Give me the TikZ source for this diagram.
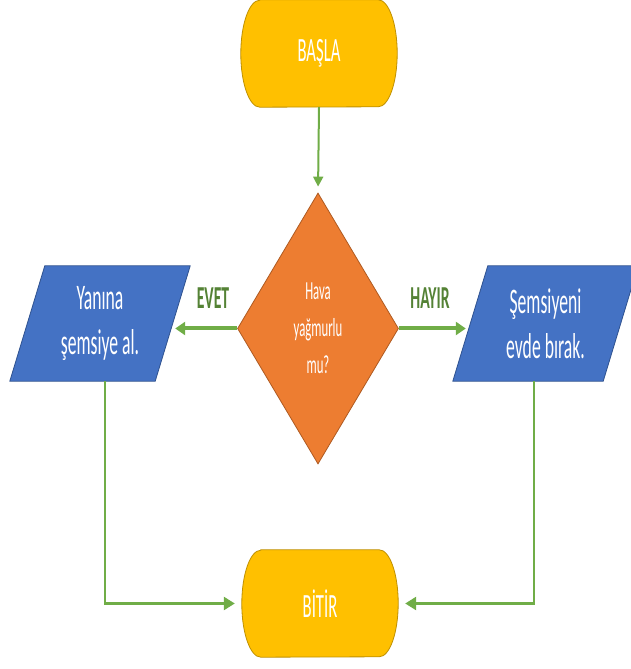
\documentclass[tikz,border=0pt]{standalone}
\usepackage{fontspec}
\setmainfont[FakeStretch=0.49]{Carlito}
\usepackage{tikz}
\usetikzlibrary{shapes,arrows.meta,backgrounds,calc}
\definecolor{altin}{HTML}{FFC000}
\definecolor{altinkoyu}{HTML}{BF9000}
\definecolor{turuncu}{HTML}{ED7D31}
\definecolor{turuncukoyu}{HTML}{AE5A21}
\definecolor{mavi}{HTML}{4472C4}
\definecolor{mavikoyu}{HTML}{2F528F}
\definecolor{yesil}{HTML}{70AD47}
\definecolor{koyuyesil}{HTML}{548235}

\begin{document}
\begin{tikzpicture}[x=1pt, y=1pt,
  term/.style={minimum width=156pt, minimum height=107pt, inner sep=0pt, text=white, font=\fontsize{34}{40}\selectfont},
  term shape/.style={fill=altin, draw=altinkoyu, line width=0.8pt},
  karar/.style={diamond, aspect=0.594, minimum width=161pt, minimum height=271pt, inner sep=0pt, fill=turuncu, draw=turuncukoyu, line width=0.8pt, text=white, align=center, font=\fontsize{26}{37}\selectfont},
  veri/.style={minimum height=115pt, inner sep=0pt, text=white, align=center, font=\fontsize{36}{45}\selectfont},
  veri shape/.style={fill=mavi, draw=mavikoyu, line width=0.8pt},
  etiket/.style={text=koyuyesil, font=\bfseries\fontsize{32}{38}\selectfont},
  ok/.style={draw=yesil, line width=2pt, -{Triangle[length=10pt,width=10pt]}},
  kalin ok/.style={draw=yesil, line width=4pt, -{Triangle[length=10pt,width=13pt]}},
  alt ok/.style={draw=yesil, line width=2.5pt, -{Triangle[length=11pt,width=13pt]}}]
\path[use as bounding box, clip] (0,0) rectangle (631,669);

\node[term] (basla) at (319,615.5) {BAŞLA};
\node[karar] (karar) at (318,340.5) {Hava\\yağmurlu\\mu?};
\node[veri, minimum width=180pt] (yanina) at (100,345.5) {Yanına\\şemsiye al.};
\node[veri, minimum width=185pt] (semsiye) at (545.5,345.5) {Şemsiyeni\\evde bırak.};
\node[term] (bitir) at (320,65.5) {BİTİR};
\node[etiket] (evet) at (213,371) {EVET};
\node[etiket] (hayir) at (430,371) {HAYIR};

% sekillerin kenarlari
\begin{scope}[on background layer]
\filldraw[term shape] ([xshift=19pt]basla.north west) -- ([xshift=-19pt]basla.north east)
  arc[start angle=90, end angle=-90, x radius=19pt, y radius=53.5pt]
  -- ([xshift=19pt]basla.south west)
  arc[start angle=270, end angle=90, x radius=19pt, y radius=53.5pt] -- cycle;
\filldraw[term shape] ([xshift=19pt]bitir.north west) -- ([xshift=-19pt]bitir.north east)
  arc[start angle=90, end angle=-90, x radius=19pt, y radius=53.5pt]
  -- ([xshift=19pt]bitir.south west)
  arc[start angle=270, end angle=90, x radius=19pt, y radius=53.5pt] -- cycle;
\filldraw[veri shape] ([xshift=35pt]yanina.north west) -- (yanina.north east)
  -- ([xshift=-35pt]yanina.south east) -- (yanina.south west) -- cycle;
\filldraw[veri shape] ([xshift=35pt]semsiye.north west) -- (semsiye.north east)
  -- ([xshift=-35pt]semsiye.south east) -- (semsiye.south west) -- cycle;
\end{scope}

\draw[ok, shorten >=6pt] (basla.south) -- (karar.north);
\draw[kalin ok] (karar.west) -- ([xshift=-15pt]karar.west -| yanina.east);
\draw[kalin ok] (karar.east) -- ([xshift=13pt]karar.east -| semsiye.west);
\draw[alt ok, shorten >=7pt] ([xshift=5pt]yanina.south) |- (bitir.west);
\draw[alt ok, shorten >=7pt] ([xshift=-11.5pt]semsiye.south) |- (bitir.east);
\end{tikzpicture}
\end{document}
